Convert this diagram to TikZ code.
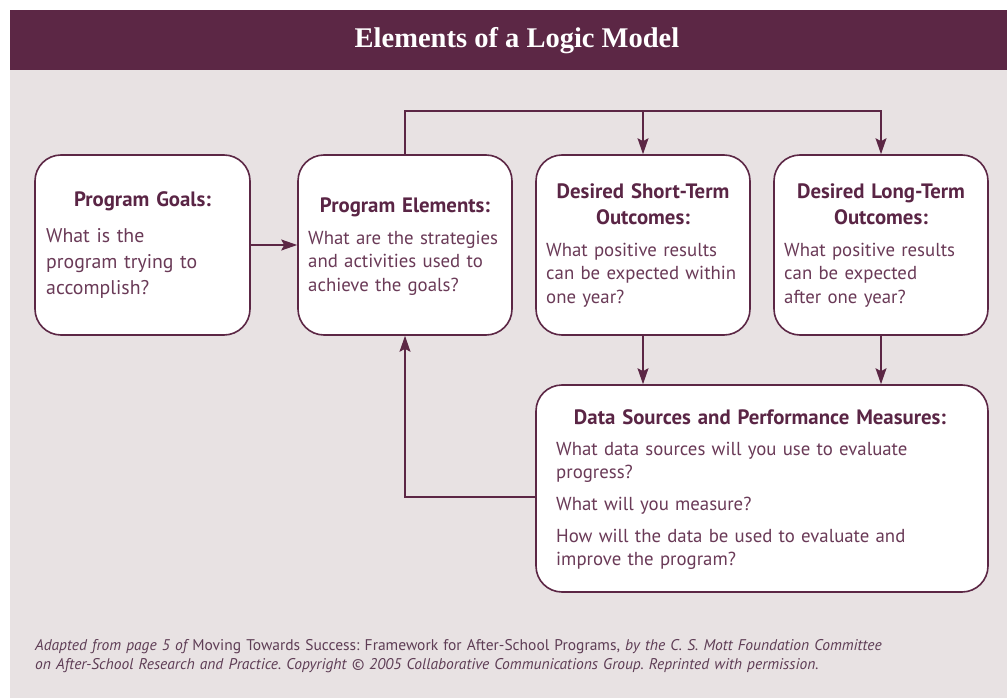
\documentclass[tikz,border=0pt]{standalone}
\usepackage{fontspec}
\setmainfont{PT Sans}
\newfontfamily\titlefont{Liberation Serif}
\usetikzlibrary{arrows.meta}
\frenchspacing
\definecolor{plum}{HTML}{5C2745}
\definecolor{paper}{HTML}{E8E2E3}
\definecolor{headc}{HTML}{5A2545}
\definecolor{bodyc}{HTML}{6A3A57}
\definecolor{footc}{HTML}{5E3D55}
\begin{document}
\begin{tikzpicture}[x=1pt,y=-1pt,>={Stealth[length=16pt,width=11pt,inset=3pt]}]
\tikzset{box/.style={draw=plum,line width=1.6pt,fill=white,rounded corners=26pt,inner sep=0},
  head/.style={anchor=base,inner sep=0,text width=210pt,align=center,text=headc,
    font=\bfseries\fontsize{20.8}{26}\selectfont},
  body/.style={anchor=base west,inner sep=0,text width=400pt,align=left,text=bodyc,
    font=\fontsize{18.8}{23.5}\selectfont},
  link/.style={draw=plum,line width=1.4pt}}
\useasboundingbox (0,0) rectangle (1007,698);
\fill[paper] (10,70) rectangle (1007,698);
\fill[plum] (10,10) rectangle (1007,70);
\node[anchor=base,text=white,font=\titlefont\bfseries\fontsize{28.5}{32}\selectfont] (title) at (517,48) {Elements of a Logic Model};
% boxes
\node[box,minimum width=215pt,minimum height=180pt] (goals) at (142.5,245) {};
\node[box,minimum width=214pt,minimum height=180pt] (elements) at (405,245) {};
\node[box,minimum width=214pt,minimum height=180pt] (short) at (643,245) {};
\node[box,minimum width=214pt,minimum height=180pt] (long) at (881,245) {};
\node[box,minimum width=452pt,minimum height=207pt] (data) at (762,488.5) {};
% texts
\node[head] (goalshead) at (142.5,206) {Program Goals:};
\node[body,font=\fontsize{19.8}{26}\selectfont] (goalstext) at (46,242) {What is the\\program trying to\\accomplish?};
\node[head] (elemhead) at (405,212) {Program Elements:};
\node[body] (elemtext) at (308,244) {What are the strategies\\and activities used to\\achieve the goals?};
\node[head] (shorthead) at (643,198) {Desired Short-Term\\Outcomes:};
\node[body] (shorttext) at (546,256) {What positive results\\can be expected within\\one year?};
\node[head] (longhead) at (881,198) {Desired Long-Term\\Outcomes:};
\node[body] (longtext) at (784,256) {What positive results\\can be expected\\after one year?};
\node[head,text width=440pt] (datahead) at (760,424) {Data Sources and Performance Measures:};
\node[body] (datatext1) at (556,455) {What data sources will you use to evaluate\\progress?};
\node[body] (datatext2) at (556,510) {What will you measure?};
\node[body] (datatext3) at (556,542) {How will the data be used to evaluate and\\improve the program?};
% connectors
\coordinate (bus) at (643,111);
\draw[link,->] (goals) -- (elements);
\draw[link,->] (elements.north) |- (bus) -| (long.north);
\draw[link,->] (bus) -- (short.north);
\draw[link,->] (short.south) -- (short.south |- data.north);
\draw[link,->] (long.south) -- (long.south |- data.north);
\draw[link,->] ([yshift=-8.5pt]data.west) -| (elements.south);
% source line
\node[anchor=base west,inner sep=0,text width=960pt,align=left,text=footc,font=\fontsize{15.5}{19}\selectfont] (source) at (35,650)
  {\itshape Adapted from page 5 of \upshape Moving Towards Success: Framework for After-School Programs, \itshape by the C. S. Mott Foundation Committee\\
  on After-School Research and Practice. Copyright © 2005 Collaborative Communications Group. Reprinted with permission.};
\end{tikzpicture}
\end{document}
